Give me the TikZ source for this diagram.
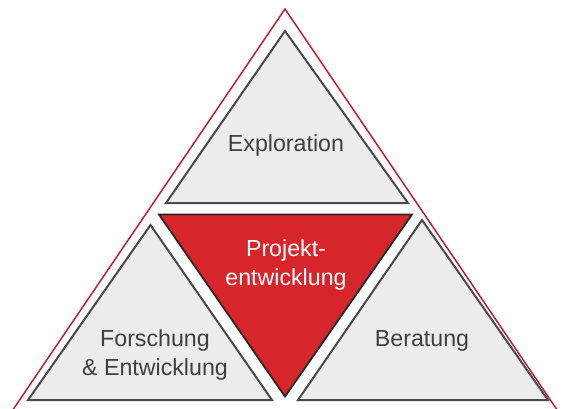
\documentclass[tikz,border=0pt]{standalone}
\usepackage{fontspec}
\setmainfont{Liberation Sans}
\definecolor{redfill}{HTML}{D7262B}
\definecolor{redline}{HTML}{C0202C}
\definecolor{grayfill}{HTML}{EBECEB}
\definecolor{grayline}{HTML}{4A4A4A}
\definecolor{txtgray}{HTML}{3F3F3F}
\tikzset{
  graytri/.style={fill=grayfill, draw=grayline, line width=2pt, line join=miter},
  redtri/.style={fill=redfill, draw=black!85, line width=1.8pt, line join=miter},
  outertri/.style={draw=redline, line width=1.5pt, line join=miter},
  lbl/.style={font=\fontsize{23.2}{29}\selectfont, text=txtgray, align=center, inner sep=0pt},
  wlbl/.style={lbl, text=white}
}
\begin{document}
\begin{tikzpicture}[x=1pt,y=-1pt]
\useasboundingbox (0,0) rectangle (565,408);
\clip (0,0) rectangle (565,408);
\fill[white] (0,0) rectangle (565,408);
% outer red triangle
\draw[outertri] (6,420) -- (285,9) -- (564,420);
% top gray
\draw[graytri] (285,31) -- (408,203) -- (166,203) -- cycle;
% left gray
\draw[graytri] (150.5,225) -- (272,400) -- (28,400) -- cycle;
% right gray
\draw[graytri] (422,220) -- (548,400) -- (298,400) -- cycle;
% red inverted
\draw[redtri] (159,214.5) -- (412,214.5) -- (285,396.5) -- cycle;
% labels
\node[lbl] (expl) at (286,145) {Exploration};
\node[wlbl] (proj) at (286,264.5) {Projekt-\\entwicklung};
\node[lbl] (fue) at (155,354.5) {Forschung\\\& Entwicklung};
\node[lbl] (ber) at (422,340.5) {Beratung};
\end{tikzpicture}
\end{document}
